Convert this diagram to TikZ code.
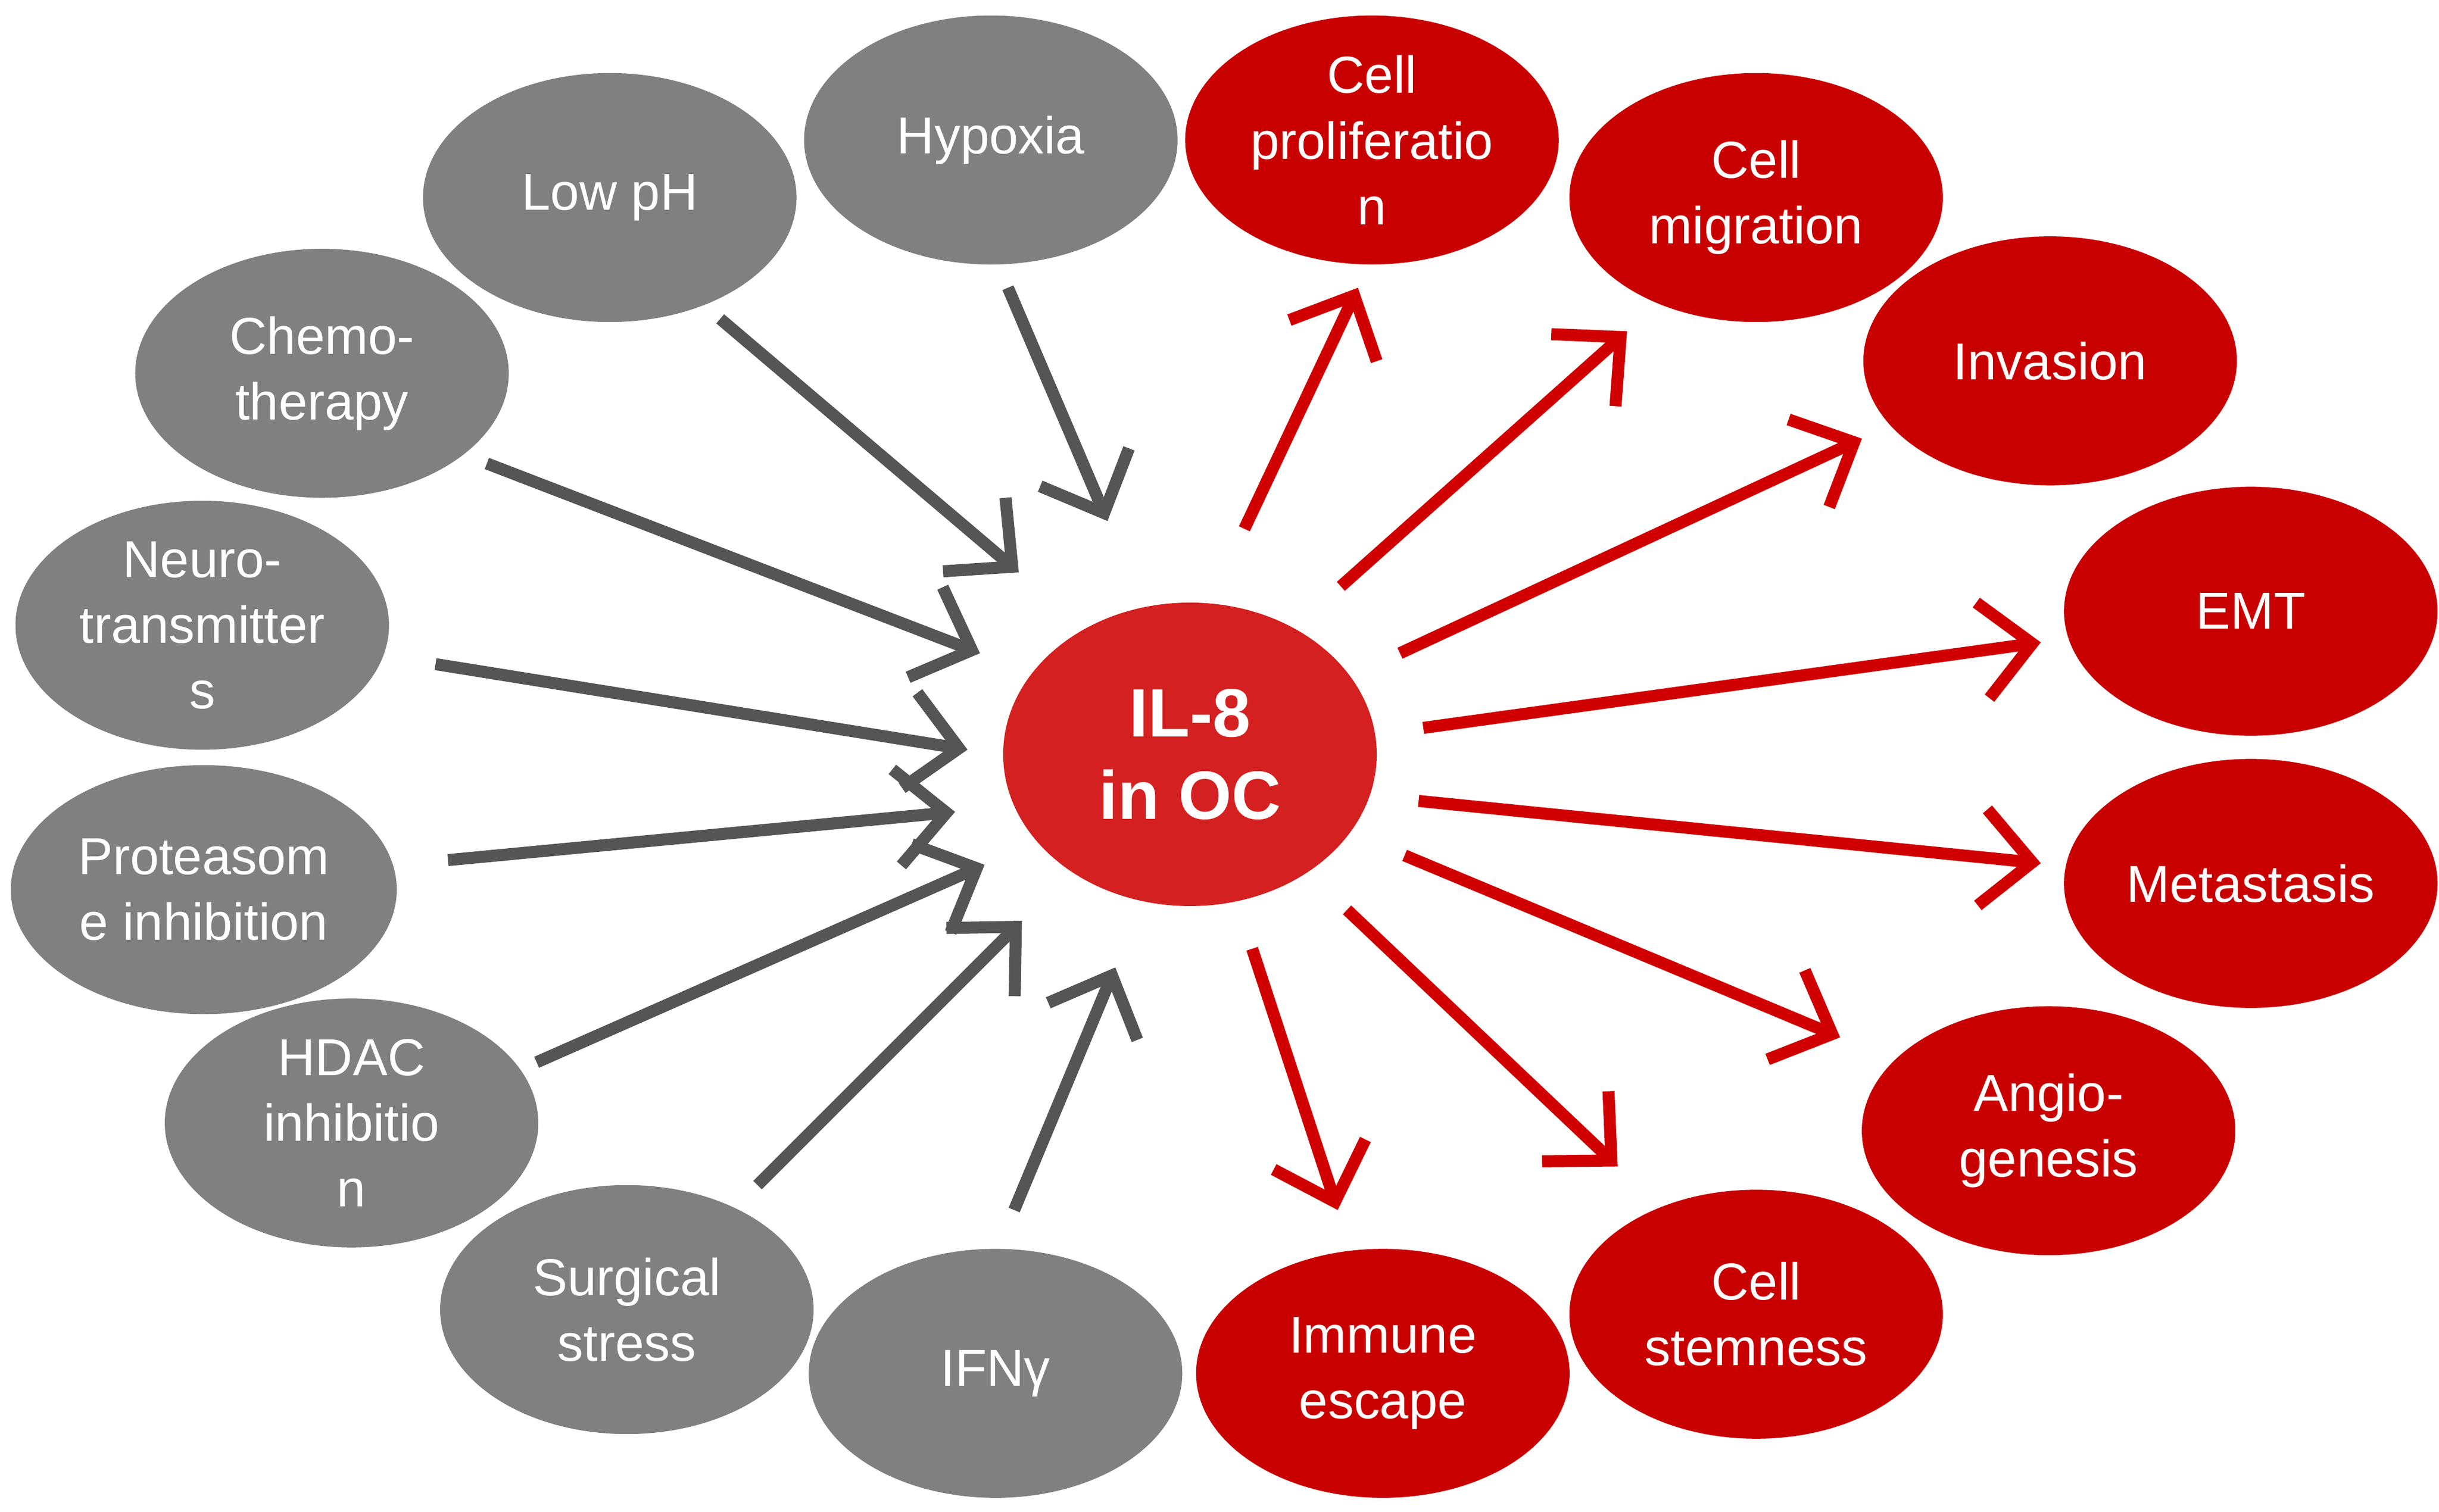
\documentclass[tikz,border=0pt]{standalone}
\usepackage{fontspec}
\setmainfont{Liberation Sans}
\usetikzlibrary{arrows.meta,shapes.geometric}
\definecolor{gr}{HTML}{808080}
\definecolor{rd}{HTML}{C80000}
\definecolor{ctr}{HTML}{D42020}
\definecolor{ga}{HTML}{555555}
\definecolor{ra}{HTML}{D00000}
\begin{document}
\begin{tikzpicture}[x=0.01cm,y=-0.01cm,
 el/.style={ellipse,minimum width=2.4cm,minimum height=1.6cm,inner sep=0pt,text=white,align=center,font=\fontsize{9.5}{12}\selectfont},
 g/.style={el,fill=gr},
 r/.style={el,fill=rd},
 arr/.style={line width=2.2pt,-{Straight Barb[length=0.32cm,width=0.62cm,line width=2.2pt]}},
 ga/.style={arr,draw=ga},
 ra/.style={arr,draw=ra}]
\useasboundingbox (0,0) rectangle (1568,972);
\node[g] (lowph) at (392,127) {Low pH};
\node[g] (hyp) at (637,90) {Hypoxia};
\node[g] (chemo) at (207,240) {Chemo-\\therapy};
\node[g] (neuro) at (130,402) {Neuro-\\transmitter\\s};
\node[g,minimum width=2.48cm] (prot) at (131,572) {Proteasom\\e inhibition};
\node[g] (hdac) at (226,722) {HDAC\\inhibitio\\n};
\node[g] (surg) at (403,842) {Surgical\\stress};
\node[g] (ifn) at (640,883) {IFNγ};
\node[r] (prol) at (882,90) {Cell\\proliferatio\\n};
\node[r] (mig) at (1129,127) {Cell\\migration};
\node[r] (inv) at (1318,232) {Invasion};
\node[r] (emt) at (1447,393) {EMT};
\node[r] (met) at (1447,568) {Metastasis};
\node[r] (ang) at (1317,727) {Angio-\\genesis};
\node[r] (stem) at (1129,845) {Cell\\stemness};
\node[r] (imm) at (889,883) {Immune\\escape};
\node[ellipse,fill=ctr,minimum width=2.4cm,minimum height=1.95cm,text=white,align=center,font=\bfseries\fontsize{12.5}{15}\selectfont] (il) at (765,485) {IL-8\\in OC};
% gray arrows
\foreach \n/\a/\b in {a1/{463,205}/{655,368},a2/{648,185}/{712,335},a3/{313,298}/{630,420},a4/{280,427}/{622,482},a5/{288,553}/{614,522},a6/{345,683}/{633,556},a7/{487,762}/{657,592},a8/{652,778}/{717,622}}{
 \coordinate (\n s) at (\a); \coordinate (\n e) at (\b);
 \draw[ga] (\n s) -- (\n e);}
\foreach \n/\a/\b in {b1/{800,340}/{873,185},b2/{862,377}/{1046,213},b3/{900,420}/{1197,282},b4/{915,468}/{1312,413},b5/{912,515}/{1312,555},b6/{903,550}/{1183,667},b7/{866,585}/{1040,750},b8/{805,610}/{860,778}}{
 \coordinate (\n s) at (\a); \coordinate (\n e) at (\b);
 \draw[ra] (\n s) -- (\n e);}
\end{tikzpicture}
\end{document}
